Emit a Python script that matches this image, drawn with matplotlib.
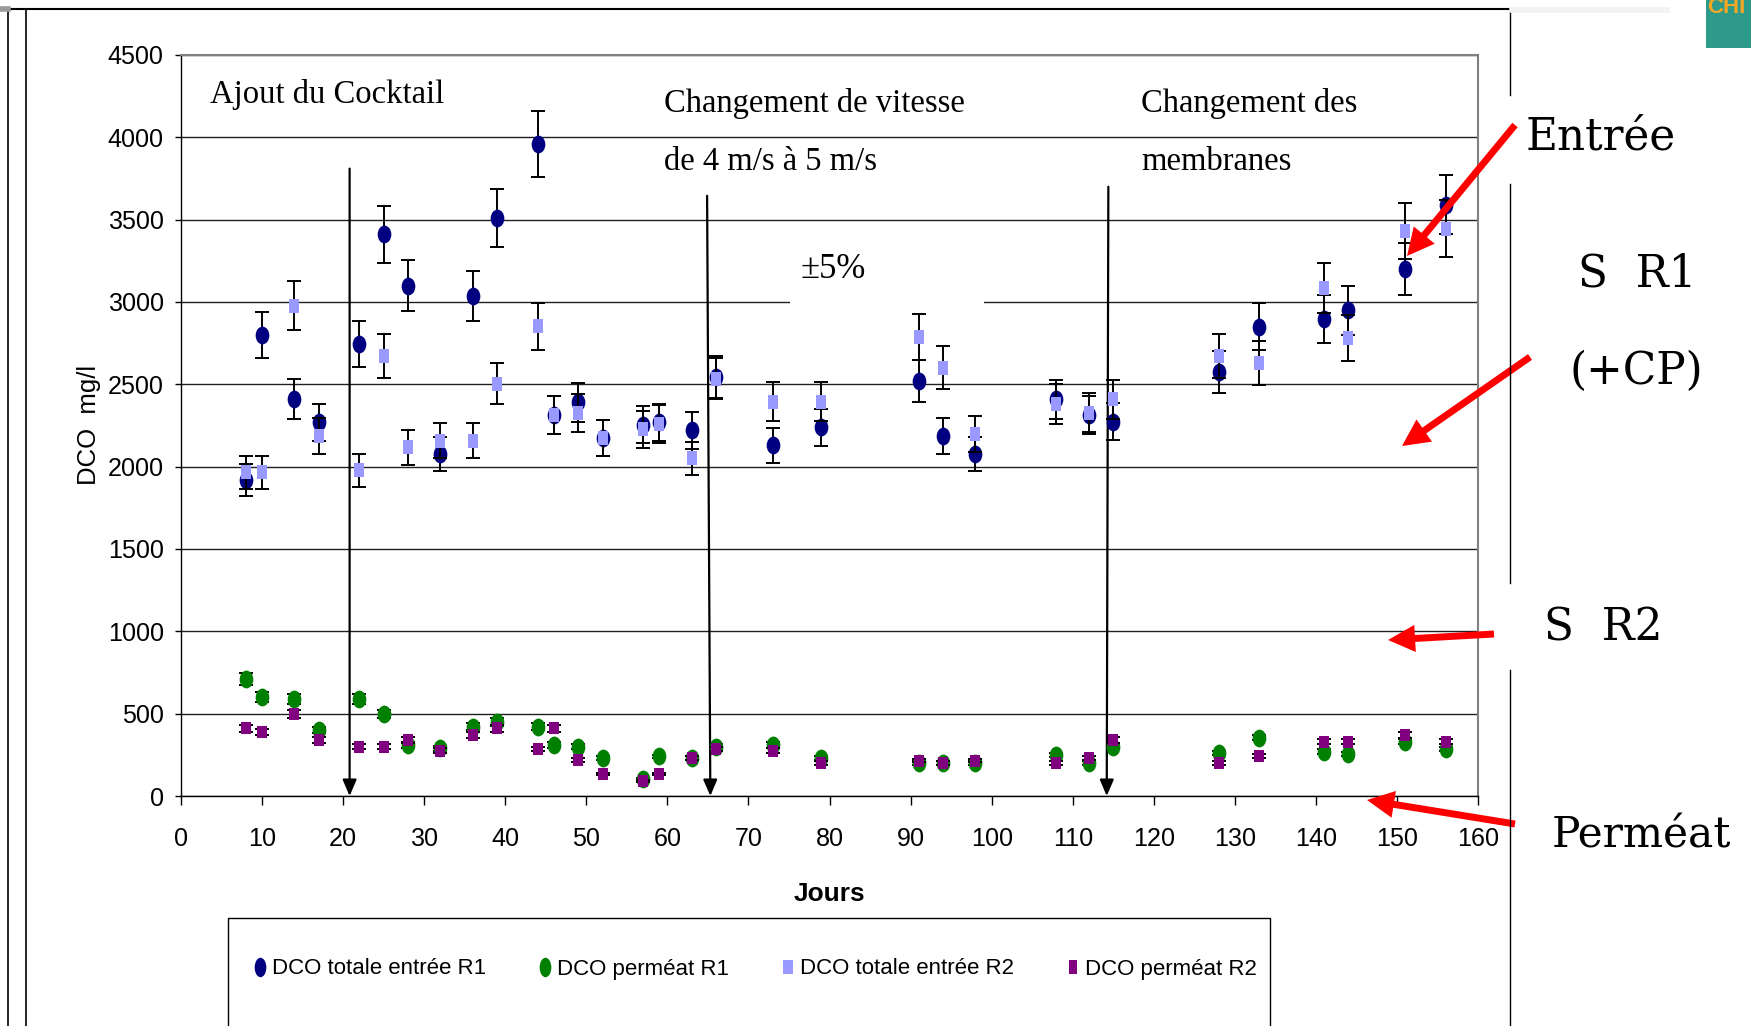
import matplotlib
matplotlib.use('Agg')
import matplotlib.pyplot as plt
import numpy as np
from matplotlib.path import Path
from matplotlib.patches import Rectangle, FancyArrowPatch
from matplotlib.lines import Line2D
from matplotlib import font_manager

# ---------------- data ----------------
days = [8, 10, 14, 17, 22, 25, 28, 32, 36, 39, 44, 46, 49, 52, 57, 59, 63, 66,
        73, 79, 91, 94, 98, 108, 112, 115, 128, 133, 141, 144, 151, 156]
entree_r1 = [1920, 2800, 2410, 2270, 2745, 3410, 3100, 2075, 3035, 3510, 3960, 2315,
             2390, 2175, 2255, 2270, 2220, 2545, 2130, 2240, 2520, 2185, 2078, 2408,
             2314, 2273, 2576, 2850, 2895, 2949, 3200, 3590]
perm_r1 = [710, 600, 590, 400, 590, 500, 310, 290, 420, 450, 420, 310, 300, 230,
           105, 240, 230, 300, 310, 230, 200, 200, 200, 250, 200, 300, 260, 355,
           270, 255, 330, 285]
entree_r2 = [1965, 1965, 2976, 2186, 1977, 2672, 2118, 2158, 2158, 2505, 2852, 2314,
             2324, 2172, 2227, 2259, 2050, 2535, 2394, 2394, 2785, 2602, 2199, 2380,
             2328, 2408, 2670, 2630, 3085, 2783, 3432, 3446]
perm_r2 = [410, 390, 500, 340, 300, 300, 340, 275, 370, 410, 285, 410, 220, 135,
           90, 135, 230, 285, 275, 200, 215, 200, 215, 200, 230, 340, 200, 245,
           330, 330, 370, 330]
rel_err = 0.05

labels = ["DCO totale entrée R1", "DCO perméat R1", "DCO totale entrée R2", "DCO perméat R2"]
colors = ["#000080", "#008000", "#9999FF", "#800080"]

xticks = list(range(0, 161, 10))
yticks = list(range(0, 4501, 500))

# event days (vertical arrows): (x_top, y_top, x_bottom)
events = [(20.8, 3810, 20.8), (64.9, 3645, 65.3), (114.4, 3700, 114.2)]

# ---------------- fonts ----------------
names = {f.name for f in font_manager.fontManager.ttflist}
if 'Liberation Sans Narrow' in names:
    NARROW, nsc = 'Liberation Sans Narrow', 1.0
else:
    NARROW, nsc = 'Liberation Sans', 0.86
SANS = 'Liberation Sans'
SERIF = 'Liberation Serif'
SERIF2 = 'DejaVu Serif'

W, H = 1751, 1026
fig = plt.figure(figsize=(W / 100, H / 100), dpi=100)
fig.patch.set_facecolor('white')

def fx(px):
    return px / W

def fy(py):
    return 1 - py / H

ax = fig.add_axes([fx(181), fy(796), fx(1478) - fx(181), fy(55) - fy(796)])
ax.set_xlim(0, 160)
ax.set_ylim(0, 4500)
ax.set_xticks(xticks)
ax.set_yticks(yticks)
ax.set_axisbelow(True)
ax.yaxis.grid(True, color='#202020', lw=1.0)
ax.tick_params(axis='x', direction='out', length=6.5, width=1, pad=16,
               labelsize=21 * nsc, labelfontfamily=NARROW)
ax.tick_params(axis='y', direction='out', length=4.5, width=1, pad=8,
               labelsize=21 * nsc, labelfontfamily=NARROW)
for s in ['top', 'right']:
    ax.spines[s].set_color('#808080')
    ax.spines[s].set_linewidth(1.5)
for s in ['left', 'bottom']:
    ax.spines[s].set_color('black')
    ax.spines[s].set_linewidth(1.0)

# markers
circ = Path.unit_circle()
ell = Path(circ.vertices * np.array([0.77, 1.0]), circ.codes)
def rect_path(r):
    return Path([(-r / 2, -0.5), (r / 2, -0.5), (r / 2, 0.5), (-r / 2, 0.5), (-r / 2, -0.5)],
                [Path.MOVETO, Path.LINETO, Path.LINETO, Path.LINETO, Path.CLOSEPOLY])
sq_light = rect_path(0.8)
sq_purple = rect_path(0.88)

series = [
    (entree_r1, ell, 12.8, colors[0]),
    (perm_r1, ell, 12.8, colors[1]),
    (entree_r2, sq_light, 9.6, colors[2]),
    (perm_r2, sq_purple, 8.4, colors[3]),
]
z = 3
for vals, mk, ms, col in series:
    v = np.array(vals, dtype=float)
    ax.errorbar(days, v, yerr=rel_err * v, fmt='none', ecolor='black',
                elinewidth=1.4, capsize=4.7, capthick=1.4, zorder=z)
    ax.plot(days, v, linestyle='none', marker=mk, markersize=ms, color=col,
            markeredgewidth=0, zorder=z + 0.5)
    z += 1

# vertical event arrows
for xt, yt, xb in events:
    ax.annotate('', xy=(xb, 0), xytext=(xt, yt),
                arrowprops=dict(arrowstyle='-|>,head_length=0.7,head_width=0.3',
                                lw=1.6, color='black', shrinkA=0, shrinkB=0,
                                mutation_scale=14), zorder=2)

# in-plot annotations
tkw = dict(family=SERIF, fontsize=23.5, va='center', ha='left')
ax.text(3.6, 4259, "Ajout du Cocktail", **tkw)
ax.text(59.6, 4205, "Changement de vitesse", **tkw)
ax.text(59.6, 3854, "de 4 m/s à 5 m/s", **tkw)
ax.text(118.4, 4205, "Changement des", **tkw)
ax.text(118.4, 3854, "membranes", **tkw)
ax.add_patch(Rectangle((75.1, 2900), 24.0, 200, facecolor='white', edgecolor='none', zorder=1))
ax.text(80.4, 3195, "±5%", family=SERIF, fontsize=25, va='center', ha='center', zorder=2)

# axis labels
fig.text(fx(829), fy(894), "Jours", family=NARROW, fontsize=22 * nsc, fontweight='bold',
         ha='center', va='center')
fig.text(fx(89), fy(425), "DCO  mg/l", family=SANS, fontsize=18.5, rotation=90,
         ha='center', va='center')

# legend
handles = [
    Line2D([], [], linestyle='none', marker=Path(circ.vertices * np.array([0.6, 1.0]), circ.codes),
           markersize=14, color=colors[0], markeredgewidth=0),
    Line2D([], [], linestyle='none', marker=Path(circ.vertices * np.array([0.6, 1.0]), circ.codes),
           markersize=14, color=colors[1], markeredgewidth=0),
    Line2D([], [], linestyle='none', marker=rect_path(0.7), markersize=10,
           color=colors[2], markeredgewidth=0),
    Line2D([], [], linestyle='none', marker=rect_path(0.6), markersize=9.5,
           color=colors[3], markeredgewidth=0),
]
leg_size = 19.5 if NARROW == 'Liberation Sans Narrow' else 16
fig.legend(handles, labels, loc='center left', bbox_to_anchor=(fx(254), fy(969)),
           ncol=4, frameon=False, borderpad=0, borderaxespad=0, handlelength=0.5,
           handletextpad=0.3, columnspacing=2.4,
           prop=dict(family=NARROW, size=leg_size))
fig.add_artist(Rectangle((fx(228), -0.05), fx(1270) - fx(228), fy(918) + 0.05,
                         transform=fig.transFigure, fill=False, ec='black', lw=1.0))

# frame lines of the slide
def fline(xs, ys, **kw):
    fig.add_artist(Line2D([fx(x) for x in xs], [fy(y) for y in ys],
                          transform=fig.transFigure, **kw))
fline([8, 8], [9, 1030], color='black', lw=1.2)
fline([26, 26], [9, 1030], color='black', lw=1.2)
fline([7, 1511], [9, 9], color='black', lw=1.5)
fline([0, 8], [9, 9], color='#999999', lw=4)
fline([1510, 1510], [9, 95], color='black', lw=1.0)
fline([1510, 1510], [184, 583], color='black', lw=1.0)
fline([1510, 1510], [670, 1030], color='black', lw=1.0)
fline([1512, 1667], [10, 10], color='#F2F2F2', lw=4)

# teal corner box
fig.add_artist(Rectangle((fx(1706), fy(48)), fx(1751) - fx(1706), fy(0) - fy(48),
                         transform=fig.transFigure, facecolor='#2E9A8A', edgecolor='none'))
fig.text(fx(1707), fy(13), "CHI", color='#F5A623', fontsize=16, fontweight='bold',
         family=SANS, ha='left', va='baseline')

# right-side labels
rt = dict(family=SERIF2, fontsize=31.5, va='center', ha='left')
fig.text(fx(1526), fy(137), "Entrée", **rt)
fig.text(fx(1578), fy(274), "S  R1", **rt)
fig.text(fx(1569), fy(371), "(+CP)", **rt)
fig.text(fx(1544), fy(628), "S  R2", **rt)
fig.text(fx(1552), fy(835), "Perméat", family=SERIF2, fontsize=30.5, va='center', ha='left')

# red arrows
ms = 10
style = "simple,head_length=1.95,head_width=1.95,tail_width=0.5"
for (x1, y1), (x2, y2) in [((1515, 125), (1407, 256)), ((1530, 357), (1402, 446)),
                           ((1494, 634), (1388, 640)), ((1515, 824), (1367, 800))]:
    fig.add_artist(FancyArrowPatch((fx(x1), fy(y1)), (fx(x2), fy(y2)),
                                   transform=fig.transFigure, arrowstyle=style,
                                   mutation_scale=ms, color='#FF0000', lw=0,
                                   shrinkA=0, shrinkB=0))

fig.savefig('out.png', dpi=100)
